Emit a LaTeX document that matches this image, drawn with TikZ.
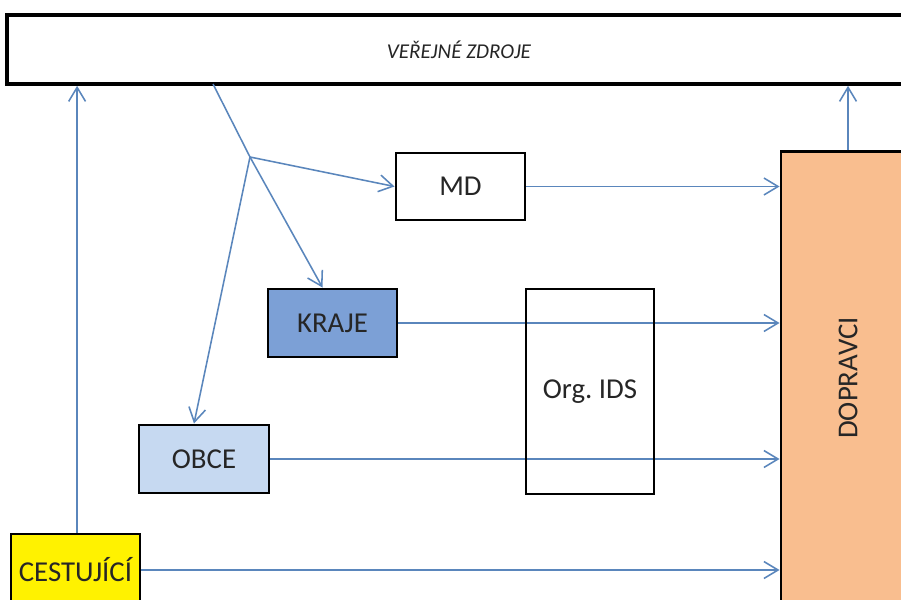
\documentclass[tikz,border=0pt]{standalone}
\usepackage{fontspec}
\setmainfont{Carlito}
\usetikzlibrary{arrows.meta}
\frenchspacing

\definecolor{linec}{RGB}{90,134,188}
\definecolor{krajec}{RGB}{124,160,214}
\definecolor{obcec}{RGB}{198,217,241}
\definecolor{dopc}{RGB}{249,190,143}
\definecolor{textc}{RGB}{38,38,38}

\tikzset{
  box/.style={draw=black, line width=2.1pt, text=textc, inner sep=0pt},
  conn/.style={draw=linec, line width=1.1pt, -{Straight Barb[length=10pt,width=12pt]}},
  plain/.style={draw=linec, line width=1.1pt}
}

\begin{document}
\begin{tikzpicture}[x=0.025cm,y=-0.025cm,font=\fontsize{20.5}{24}\selectfont]
        \clip (0,0) rectangle (901,599);
        \fill[white] (0,0) rectangle (901,599);
        % boxes
        \node[box, fill=white, line width=2.6pt, minimum width=22.6cm, minimum height=1.725cm,
              font=\fontsize{15}{18}\selectfont\itshape] (zdroje) at (459,49.5) {VEŘEJNÉ ZDROJE};
        \node[box, fill=white, minimum width=3.225cm, minimum height=1.675cm] (md) at (460.5,186.5) {MD};
        \node[box, fill=krajec, minimum width=3.225cm, minimum height=1.7cm] (kraje) at (332.5,323) {KRAJE};
        \node[box, fill=obcec, minimum width=3.25cm, minimum height=1.7cm] (obce) at (204,459) {OBCE};
        \node[box, fill=yellow, minimum width=3.225cm, minimum height=1.8cm] (cest) at (75.5,570) {CESTUJÍCÍ};
        \node[box, fill=dopc, minimum width=3.35cm, minimum height=11.3cm] (doprav) at (848,378) {\rotatebox{90}{DOPRAVCI}};
        \coordinate (br) at (250,157);
        \coordinate (zd) at (213,84);
        % flows
        \draw[plain] (zd) -- (br);
        \draw[conn] (br) -- (md.west);
        \draw[conn] (br) -- ([xshift=-0.25cm]kraje.north);
        \draw[conn] (br) -- ([xshift=-0.25cm]obce.north);
        \draw[conn] (md.east) -- (md.east -| doprav.west);
        \draw[conn] (kraje.east) -- (kraje.east -| doprav.west);
        \draw[conn] (obce.east) -- (obce.east -| doprav.west);
        \draw[conn] (cest.east) -- (cest.east -| doprav.west);
        \draw[conn] ([xshift=0.04cm]cest.north) -- ([xshift=0.04cm]cest.north |- zdroje.south);
        \draw[conn] (doprav.north) -- (doprav.north |- zdroje.south);
        \node[draw=black, line width=1pt, text=textc, minimum width=3.2cm, minimum height=5.125cm] (ids) at (590,391.5) {Org. IDS};
    \end{tikzpicture}
\end{document}
